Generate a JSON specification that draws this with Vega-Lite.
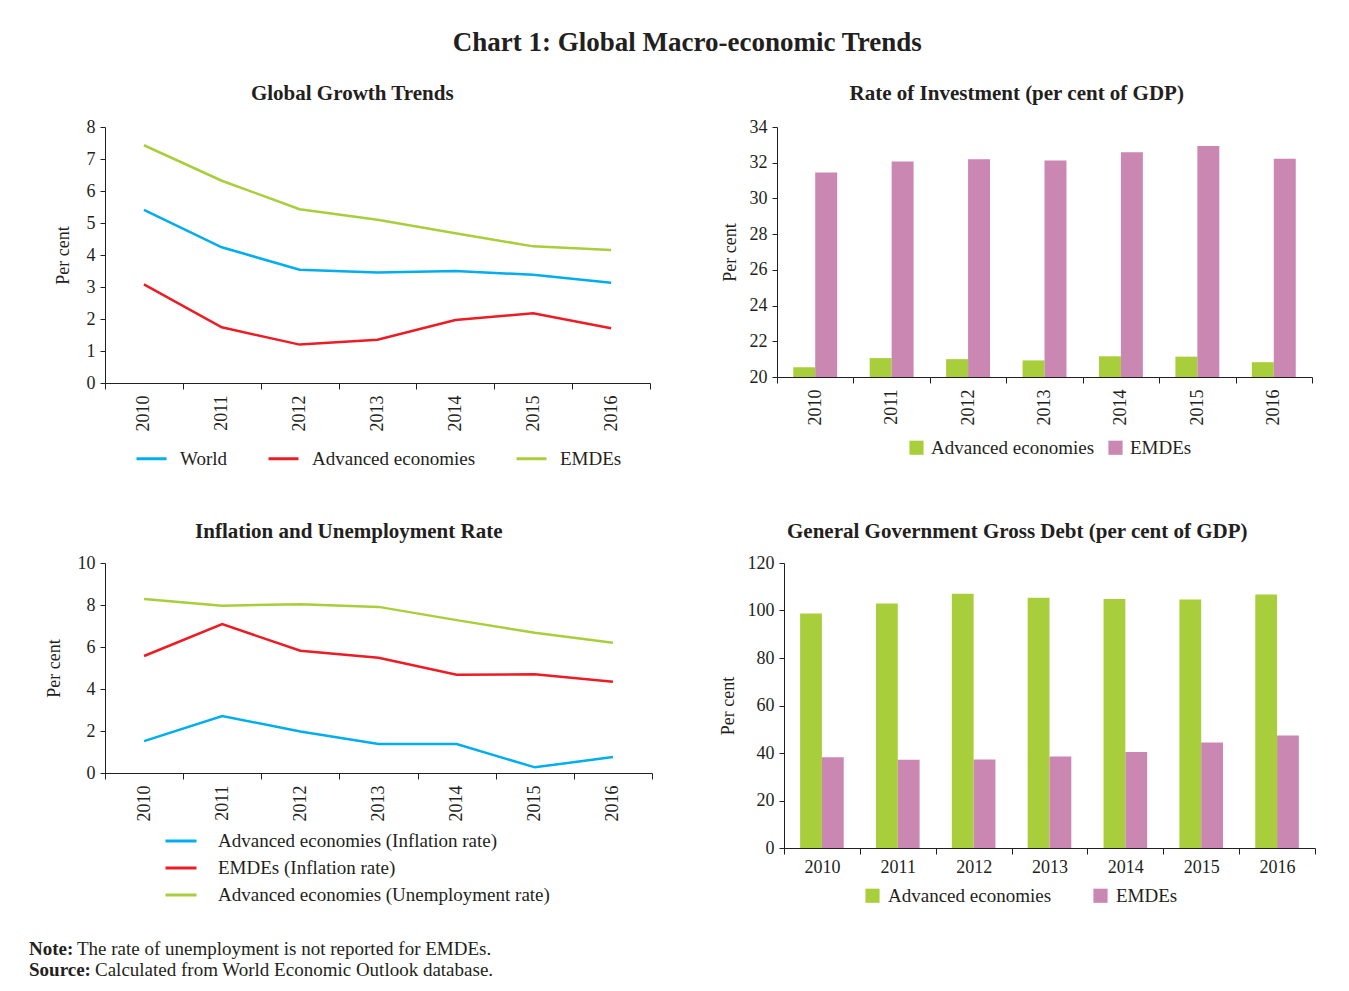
{
  "$schema": "https://vega.github.io/schema/vega-lite/v6.json",
  "background": "white",
  "padding": {"left": 29, "top": 29, "right": 10, "bottom": 5},
  "title": {"text": "Chart 1: Global Macro-economic Trends", "fontSize": 27, "fontWeight": "bold", "font": "Liberation Serif", "color": "#231F20", "anchor": "middle", "offset": 26, "dx": 15},
  "datasets": {
    "growth": [
      {"year": "2010", "series": "World", "value": 5.41},
      {"year": "2011", "series": "World", "value": 4.24},
      {"year": "2012", "series": "World", "value": 3.54},
      {"year": "2013", "series": "World", "value": 3.45},
      {"year": "2014", "series": "World", "value": 3.50},
      {"year": "2015", "series": "World", "value": 3.38},
      {"year": "2016", "series": "World", "value": 3.13},
      {"year": "2010", "series": "Advanced economies", "value": 3.08},
      {"year": "2011", "series": "Advanced economies", "value": 1.74},
      {"year": "2012", "series": "Advanced economies", "value": 1.20},
      {"year": "2013", "series": "Advanced economies", "value": 1.35},
      {"year": "2014", "series": "Advanced economies", "value": 1.97},
      {"year": "2015", "series": "Advanced economies", "value": 2.18},
      {"year": "2016", "series": "Advanced economies", "value": 1.71},
      {"year": "2010", "series": "EMDEs", "value": 7.43},
      {"year": "2011", "series": "EMDEs", "value": 6.32},
      {"year": "2012", "series": "EMDEs", "value": 5.43},
      {"year": "2013", "series": "EMDEs", "value": 5.10},
      {"year": "2014", "series": "EMDEs", "value": 4.68},
      {"year": "2015", "series": "EMDEs", "value": 4.27},
      {"year": "2016", "series": "EMDEs", "value": 4.16}
    ],
    "investment": [
      {"year": "2010", "series": "Advanced economies", "value": 20.54},
      {"year": "2011", "series": "Advanced economies", "value": 21.06},
      {"year": "2012", "series": "Advanced economies", "value": 21.0},
      {"year": "2013", "series": "Advanced economies", "value": 20.93},
      {"year": "2014", "series": "Advanced economies", "value": 21.16},
      {"year": "2015", "series": "Advanced economies", "value": 21.14},
      {"year": "2016", "series": "Advanced economies", "value": 20.83},
      {"year": "2010", "series": "EMDEs", "value": 31.45},
      {"year": "2011", "series": "EMDEs", "value": 32.07},
      {"year": "2012", "series": "EMDEs", "value": 32.2},
      {"year": "2013", "series": "EMDEs", "value": 32.13},
      {"year": "2014", "series": "EMDEs", "value": 32.59},
      {"year": "2015", "series": "EMDEs", "value": 32.94},
      {"year": "2016", "series": "EMDEs", "value": 32.22}
    ],
    "inflation": [
      {"year": "2010", "series": "Advanced economies (Inflation rate)", "value": 1.52},
      {"year": "2011", "series": "Advanced economies (Inflation rate)", "value": 2.71},
      {"year": "2012", "series": "Advanced economies (Inflation rate)", "value": 1.98},
      {"year": "2013", "series": "Advanced economies (Inflation rate)", "value": 1.38},
      {"year": "2014", "series": "Advanced economies (Inflation rate)", "value": 1.38},
      {"year": "2015", "series": "Advanced economies (Inflation rate)", "value": 0.27},
      {"year": "2016", "series": "Advanced economies (Inflation rate)", "value": 0.76},
      {"year": "2010", "series": "EMDEs (Inflation rate)", "value": 5.57},
      {"year": "2011", "series": "EMDEs (Inflation rate)", "value": 7.09},
      {"year": "2012", "series": "EMDEs (Inflation rate)", "value": 5.82},
      {"year": "2013", "series": "EMDEs (Inflation rate)", "value": 5.49},
      {"year": "2014", "series": "EMDEs (Inflation rate)", "value": 4.68},
      {"year": "2015", "series": "EMDEs (Inflation rate)", "value": 4.70},
      {"year": "2016", "series": "EMDEs (Inflation rate)", "value": 4.35},
      {"year": "2010", "series": "Advanced economies (Unemployment rate)", "value": 8.29},
      {"year": "2011", "series": "Advanced economies (Unemployment rate)", "value": 7.97},
      {"year": "2012", "series": "Advanced economies (Unemployment rate)", "value": 8.04},
      {"year": "2013", "series": "Advanced economies (Unemployment rate)", "value": 7.91},
      {"year": "2014", "series": "Advanced economies (Unemployment rate)", "value": 7.28},
      {"year": "2015", "series": "Advanced economies (Unemployment rate)", "value": 6.68},
      {"year": "2016", "series": "Advanced economies (Unemployment rate)", "value": 6.20}
    ],
    "debt": [
      {"year": "2010", "series": "Advanced economies", "value": 98.7},
      {"year": "2011", "series": "Advanced economies", "value": 102.9},
      {"year": "2012", "series": "Advanced economies", "value": 107.1},
      {"year": "2013", "series": "Advanced economies", "value": 105.4},
      {"year": "2014", "series": "Advanced economies", "value": 104.8},
      {"year": "2015", "series": "Advanced economies", "value": 104.6},
      {"year": "2016", "series": "Advanced economies", "value": 106.7},
      {"year": "2010", "series": "EMDEs", "value": 38.2},
      {"year": "2011", "series": "EMDEs", "value": 37.2},
      {"year": "2012", "series": "EMDEs", "value": 37.3},
      {"year": "2013", "series": "EMDEs", "value": 38.5},
      {"year": "2014", "series": "EMDEs", "value": 40.4},
      {"year": "2015", "series": "EMDEs", "value": 44.4},
      {"year": "2016", "series": "EMDEs", "value": 47.4}
    ],
    "notes": [
      {"row": 1, "label": "Note:", "text": "The rate of unemployment is not reported for EMDEs."},
      {"row": 2, "label": "Source:", "text": "Calculated from World Economic Outlook database."}
    ]
  },
  "spacing": 32,
  "resolve": {"scale": {"color": "independent", "x": "independent", "y": "independent", "xOffset": "independent"}, "legend": {"color": "independent"}},
  "vconcat": [
    {
      "spacing": 52,
      "resolve": {"scale": {"color": "independent", "x": "independent", "y": "independent", "xOffset": "independent"}, "legend": {"color": "independent"}},
      "vconcat": [
        {
          "spacing": 70,
          "resolve": {"scale": {"color": "independent", "x": "independent", "y": "independent", "xOffset": "independent"}, "legend": {"color": "independent"}},
          "hconcat": [
            {
              "width": 545, "height": 256,
              "title": {"text": "Global Growth Trends", "frame": "bounds", "anchor": "middle", "offset": 14},
              "data": {"name": "growth"},
              "mark": {"type": "line", "strokeWidth": 2.5},
              "encoding": {
                "x": {"field": "year", "type": "ordinal", "scale": {"type": "band", "paddingInner": 0, "paddingOuter": 0},
                      "axis": {"title": null, "labelAngle": -90, "tickBand": "extent", "labelPadding": 6, "tickSize": 6}},
                "y": {"field": "value", "type": "quantitative", "scale": {"domain": [0, 8]},
                      "axis": {"title": "Per cent", "values": [0, 1, 2, 3, 4, 5, 6, 7, 8], "titlePadding": 14}},
                "color": {"field": "series", "type": "nominal",
                          "scale": {"domain": ["World", "Advanced economies", "EMDEs"], "range": ["#00AEEF", "#ED1C24", "#A8CF3B"]},
                          "legend": {"title": null, "orient": "none", "legendX": 30, "legendY": 315, "direction": "horizontal", "symbolType": "stroke", "symbolSize": 900, "symbolStrokeWidth": 3, "columnPadding": 34, "labelOffset": 12}}
              }
            },
            {
              "width": 535, "height": 250,
              "title": {"text": "Rate of Investment (per cent of GDP)", "frame": "bounds", "anchor": "middle", "offset": 14},
              "data": {"name": "investment"},
              "mark": {"type": "bar"},
              "encoding": {
                "x": {"field": "year", "type": "ordinal", "scale": {"type": "band", "paddingInner": 0, "paddingOuter": 0},
                      "axis": {"title": null, "labelAngle": -90, "tickBand": "extent", "labelPadding": 6, "tickSize": 6}},
                "xOffset": {"field": "series", "type": "nominal", "scale": {"domain": ["Advanced economies", "EMDEs"], "paddingInner": 0, "paddingOuter": 0.74}},
                "y": {"field": "value", "type": "quantitative", "scale": {"domain": [20, 34], "zero": false},
                      "axis": {"title": "Per cent", "values": [20, 22, 24, 26, 28, 30, 32, 34], "titlePadding": 10}},
                "y2": {"datum": 20},
                "color": {"field": "series", "type": "nominal",
                          "scale": {"domain": ["Advanced economies", "EMDEs"], "range": ["#A8CF3B", "#C987B2"]},
                          "legend": {"title": null, "orient": "none", "legendX": 130, "legendY": 311, "direction": "horizontal", "symbolType": "square", "symbolSize": 200, "columnPadding": 11, "labelOffset": 5}}
              }
            }
          ]
        },
        {
          "spacing": 66,
          "resolve": {"scale": {"color": "independent", "x": "independent", "y": "independent", "xOffset": "independent"}, "legend": {"color": "independent"}},
          "hconcat": [
            {
              "width": 547, "height": 210,
              "title": {"text": "Inflation and Unemployment Rate", "frame": "bounds", "anchor": "middle", "offset": 12},
              "data": {"name": "inflation"},
              "mark": {"type": "line", "strokeWidth": 2.5},
              "encoding": {
                "x": {"field": "year", "type": "ordinal", "scale": {"type": "band", "paddingInner": 0, "paddingOuter": 0},
                      "axis": {"title": null, "labelAngle": -90, "tickBand": "extent", "labelPadding": 6, "tickSize": 6}},
                "y": {"field": "value", "type": "quantitative", "scale": {"domain": [0, 10]},
                      "axis": {"title": "Per cent", "values": [0, 2, 4, 6, 8, 10], "titlePadding": 14}},
                "color": {"field": "series", "type": "nominal",
                          "scale": {"domain": ["Advanced economies (Inflation rate)", "EMDEs (Inflation rate)", "Advanced economies (Unemployment rate)"], "range": ["#00AEEF", "#ED1C24", "#A8CF3B"]},
                          "legend": {"title": null, "orient": "none", "legendX": 59, "legendY": 261, "direction": "vertical", "symbolType": "stroke", "symbolSize": 961, "symbolStrokeWidth": 3, "labelOffset": 20, "rowPadding": -4}}
              }
            },
            {
              "width": 531, "height": 285,
              "title": {"text": "General Government Gross Debt (per cent of GDP)", "frame": "bounds", "anchor": "middle", "offset": 12},
              "data": {"name": "debt"},
              "mark": {"type": "bar"},
              "encoding": {
                "x": {"field": "year", "type": "ordinal", "scale": {"type": "band", "paddingInner": 0, "paddingOuter": 0},
                      "axis": {"title": null, "labelAngle": 0, "tickBand": "extent", "labelPadding": 4, "tickSize": 6}},
                "xOffset": {"field": "series", "type": "nominal", "scale": {"domain": ["Advanced economies", "EMDEs"], "paddingInner": 0, "paddingOuter": 0.74}},
                "y": {"field": "value", "type": "quantitative", "scale": {"domain": [0, 120]},
                      "axis": {"title": "Per cent", "values": [0, 20, 40, 60, 80, 100, 120], "titlePadding": 10}},
                "color": {"field": "series", "type": "nominal",
                          "scale": {"domain": ["Advanced economies", "EMDEs"], "range": ["#A8CF3B", "#C987B2"]},
                          "legend": {"title": null, "orient": "none", "legendX": 79, "legendY": 323, "direction": "horizontal", "symbolType": "square", "symbolSize": 200, "columnPadding": 39, "labelOffset": 6}}
              }
            }
          ]
        }
      ]
    },
    {
      "width": 600, "height": 42,
      "data": {"name": "notes"},
      "encoding": {
        "y": {"field": "row", "type": "ordinal", "axis": null, "scale": {"paddingInner": 0, "paddingOuter": 0}},
        "x": {"datum": 0, "type": "quantitative", "axis": null, "scale": {"domain": [0, 1]}}
      },
      "layer": [
        {"mark": {"type": "text", "align": "left", "dx": -76, "fontWeight": "bold", "fontSize": 19, "font": "Liberation Serif", "color": "#231F20"},
         "encoding": {"text": {"field": "label"}}},
        {"transform": [{"filter": "datum.row == 1"}],
         "mark": {"type": "text", "align": "left", "dx": -28, "fontSize": 19, "font": "Liberation Serif", "color": "#231F20"},
         "encoding": {"text": {"field": "text"}}},
        {"transform": [{"filter": "datum.row == 2"}],
         "mark": {"type": "text", "align": "left", "dx": -10, "fontSize": 19, "font": "Liberation Serif", "color": "#231F20"},
         "encoding": {"text": {"field": "text"}}}
      ]
    }
  ],
  "config": {
    "font": "Liberation Serif",
    "view": {"stroke": null},
    "axis": {"labelFont": "Liberation Serif", "labelFontSize": 18, "labelColor": "#231F20", "titleFont": "Liberation Serif", "titleFontSize": 18, "titleFontWeight": "normal", "titleColor": "#231F20", "domainColor": "#231F20", "tickColor": "#231F20", "grid": false, "tickSize": 5, "labelPadding": 5},
    "legend": {"labelFont": "Liberation Serif", "labelFontSize": 19, "labelColor": "#231F20", "labelLimit": 0},
    "title": {"font": "Liberation Serif", "fontSize": 21, "fontWeight": "bold", "color": "#231F20"}
  }
}
